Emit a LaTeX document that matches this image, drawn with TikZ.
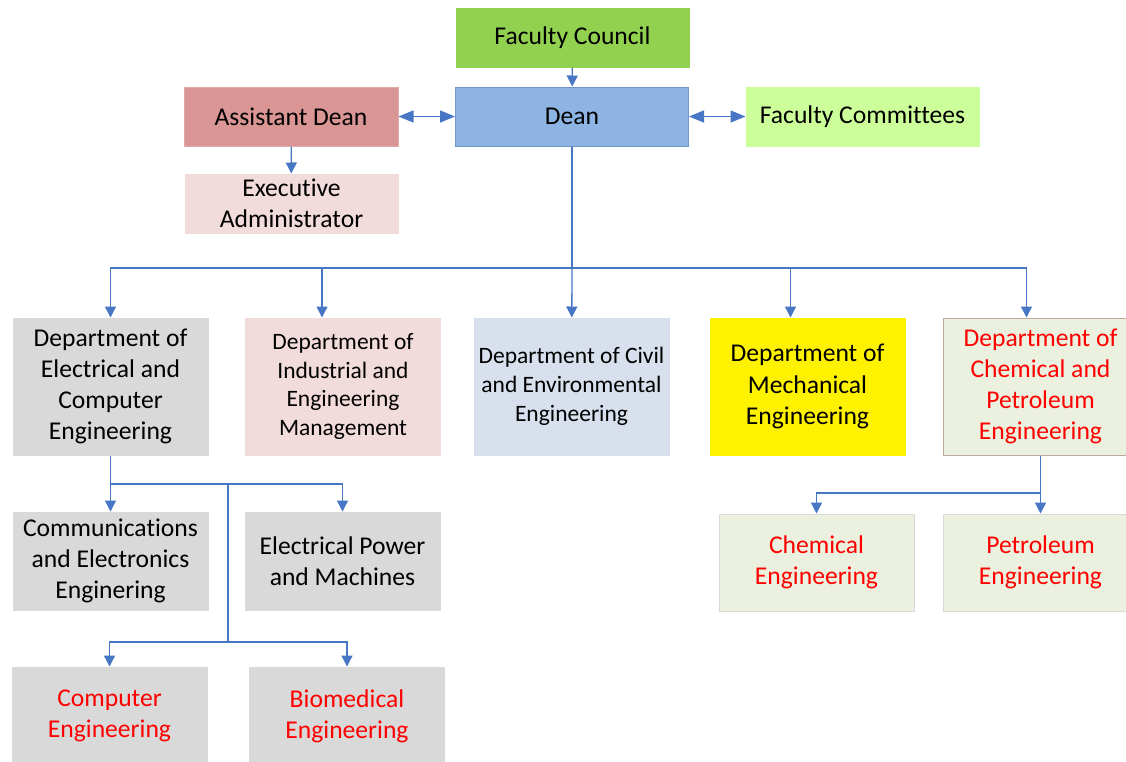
\documentclass[tikz,border=0pt]{standalone}
\usepackage{fontspec}
\setmainfont{Carlito}[Ligatures=NoCommon]
\usepackage{xcolor}
\usetikzlibrary{arrows.meta}
\definecolor{linkblue}{RGB}{70,118,196}
\definecolor{councilgreen}{RGB}{146,208,80}
\definecolor{asstred}{RGB}{218,150,148}
\definecolor{deanblue}{RGB}{142,180,227}
\definecolor{deanedge}{RGB}{112,148,203}
\definecolor{commgreen}{RGB}{204,255,153}
\definecolor{palepink}{RGB}{242,220,219}
\definecolor{palegray}{RGB}{217,217,217}
\definecolor{paleblue}{RGB}{215,224,236}
\definecolor{paleolive}{RGB}{235,241,222}
\definecolor{chemedge}{RGB}{190,168,158}
\definecolor{redtext}{RGB}{255,0,0}
\tikzset{unit/.style={align=center,inner sep=2pt,line width=1pt,minimum width=195pt,minimum height=137pt,font=\fontsize{25.6}{31.2}\selectfont},
small/.style={font=\fontsize{23.5}{28.8}\selectfont},
link/.style={draw=linkblue,line width=1.3pt},
tip/.style={-{Triangle[length=11pt,width=11pt]}},
twotip/.style={{Triangle[length=15pt,width=12pt]}-{Triangle[length=15pt,width=12pt]}}}

\begin{document}
\begin{tikzpicture}[x=1pt,y=-1pt]
\useasboundingbox[fill=white] (0,0) rectangle (1126,761);
\clip (0,0) rectangle (1126,761);
\node[unit,fill=councilgreen,draw=councilgreen,minimum width=233pt,minimum height=59pt](council) at (572.5,37.5) {Faculty Council};
\node[unit,fill=deanblue,draw=deanedge,minimum width=233pt,minimum height=59pt](dean) at (572,116.5) {Dean};
\node[unit,fill=asstred,draw=asstred!80!white,minimum width=214pt,minimum height=59pt](asst) at (291,116.5) {Assistant Dean};
\node[unit,fill=commgreen,draw=commgreen,minimum width=233pt,minimum height=59pt](committees) at (862.5,116.5) {Faculty Committees};
\node[unit,fill=palepink,draw=palepink,minimum width=213pt,minimum height=59pt](exec) at (291.5,203.5) {Executive\\Administrator};
\node[unit,fill=palegray,draw=palegray](eee) at (110.5,386.5) {Department of\\Electrical and\\Computer\\Engineering};
\node[unit,small,fill=palepink,draw=palepink](ind) at (343,386.5) {Department of\\Industrial and\\Engineering\\Management};
\node[unit,small,fill=paleblue,draw=paleblue](civil) at (571.5,386.5) {Department of Civil\\and Environmental\\Engineering};
\node[unit,fill=yellow,draw=yellow](mech) at (807.5,386.5) {Department of\\Mechanical\\Engineering};
\node[unit,fill=paleolive,draw=chemedge,text=redtext](chem) at (1040.5,386.5) {Department of\\Chemical and\\Petroleum\\Engineering};
\node[unit,fill=palegray,draw=palegray,minimum height=98pt](comm) at (110.5,561) {Communications\\and Electronics\\Enginering};
\node[unit,fill=palegray,draw=palegray,minimum height=98pt](power) at (342.5,561) {Electrical Power\\and Machines};
\node[unit,fill=paleolive,draw=black!15,text=redtext,minimum height=97pt](chemeng) at (816.5,562.5) {Chemical\\Engineering};
\node[unit,fill=paleolive,draw=black!15,text=redtext,minimum height=97pt](petro) at (1040.5,562.5) {Petroleum\\Engineering};
\node[unit,fill=palegray,draw=palegray,text=redtext,minimum height=98pt](comp) at (109.5,716) {Computer\\Engineering};
\node[unit,fill=palegray,draw=palegray,text=redtext,minimum height=98pt](bio) at (347,716) {Biomedical\\Engineering};
\coordinate (bus) at (572,268);
\coordinate (eebus) at (110.5,484);
\coordinate (eemid) at (228,484);
\coordinate (eelow) at (228,642);
\coordinate (chbus) at (1040.5,493);
\draw[link,tip] (council) -- (dean);
\draw[link,twotip] (asst) -- (dean);
\draw[link,twotip] (dean) -- (committees);
\draw[link,tip] (asst) -- (exec);
\draw[link] (dean) -- (bus);
\draw[link,tip] (bus) -| (eee.north);
\draw[link,tip] (bus) -| ([xshift=-21pt]ind.north);
\draw[link,tip] (bus) -- (civil);
\draw[link,tip] (bus) -| ([xshift=-17pt]mech.north);
\draw[link,tip] (bus) -| ([xshift=-14pt]chem.north);
\draw[link,tip] (eee) -- (comm);
\draw[link,tip] (eebus) -| (power.north);
\draw[link] (eemid) -- (eelow);
\draw[link,tip] (eelow) -| (comp.north);
\draw[link,tip] (eelow) -| (bio.north);
\draw[link,tip] (chem) -- (petro);
\draw[link,tip] (chbus) -| (chemeng.north);
\end{tikzpicture}
\end{document}
